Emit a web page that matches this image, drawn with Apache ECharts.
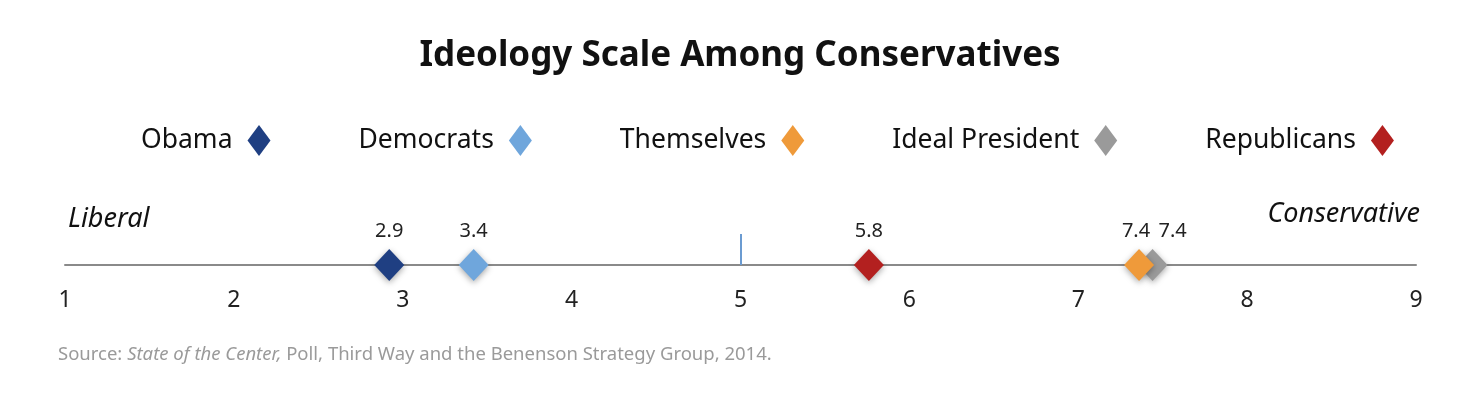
<!DOCTYPE html>
<html>
<head>
<meta charset="utf-8">
<script src="https://cdn.jsdelivr.net/npm/echarts@6/dist/echarts.min.js"></script>
<style>
  html, body { margin: 0; padding: 0; background: #fff; }
  #chart { width: 1480px; height: 398px; }
</style>
</head>
<body>
<div id="chart"></div>
<script>
// groups and their mean placement on the 1-9 scale
const groups = ['Obama', 'Democrats', 'Themselves', 'Ideal President', 'Republicans'];
const scores = [2.92, 3.42, 7.36, 7.44, 5.76];
const tickValues = [1, 2, 3, 4, 5, 6, 7, 8, 9];
const midpoint = 5;

// marker colours, same order as groups
const palette = ['#1f3f82', '#6fa6dc', '#ef9a3a', '#9a9a9a', '#b3201f'];

const FONT = '"Noto Sans", Lato, sans-serif';

const chart = echarts.init(document.getElementById('chart'));

const series = groups.map((name, i) => {
  const s = {
    name: name,
    type: 'scatter',
    symbol: 'diamond',
    symbolSize: [30, 32],
    clip: false,
    z: name === 'Themselves' ? 5 : 3,
    data: [[scores[i], 0]],
    itemStyle: {
      color: palette[i],
      opacity: 1,
      shadowBlur: 6,
      shadowColor: 'rgba(0,0,0,0.35)',
      shadowOffsetY: 2
    },
    label: {
      show: true,
      position: 'top',
      distance: 8,
      fontFamily: FONT,
      fontSize: 20,
      color: '#222',
      formatter: (p) => p.value[0].toFixed(1),
      offset: name === 'Ideal President' ? [20, 0] : (name === 'Themselves' ? [-3, 0] : [0, 0])
    }
  };
  if (i === 0) {
    // small blue marker at the scale midpoint
    s.markLine = {
      silent: true,
      symbol: 'none',
      label: { show: false },
      lineStyle: { color: '#6b9bd1', width: 2, type: 'solid' },
      data: [[{ coord: [midpoint, 0] }, { coord: [midpoint, 0.31] }]]
    };
  }
  return s;
});

const option = {
  backgroundColor: '#fff',
  animation: false,
  title: {
    text: 'Ideology Scale Among Conservatives',
    left: 'center',
    top: 34,
    textStyle: { fontFamily: FONT, fontSize: 35, fontWeight: 'bold', color: '#111' }
  },
  legend: {
    data: groups,
    left: 136,
    top: 120,
    align: 'right',
    icon: 'diamond',
    itemWidth: 23,
    itemHeight: 31,
    itemGap: 88,
    textStyle: { fontFamily: FONT, fontSize: 26.5, color: '#111', padding: [0, 10, 0, 0] }
  },
  grid: { left: 65, right: 64, top: 165, bottom: 133 },
  xAxis: {
    type: 'value',
    min: 1,
    max: 9,
    interval: 1,
    axisLine: { lineStyle: { color: '#8a8a8a', width: 2 } },
    axisTick: { show: false },
    splitLine: { show: false },
    axisLabel: {
      margin: 24,
      fontFamily: FONT,
      fontSize: 23,
      color: '#222',
      formatter: (v) => tickValues.includes(v) ? String(v) : ''
    }
  },
  yAxis: { type: 'value', min: 0, max: 1, show: false },
  graphic: [
    {
      type: 'text', left: 68, top: 206,
      style: { text: 'Liberal', fontFamily: FONT, fontSize: 27, fontStyle: 'italic', fill: '#111' }
    },
    {
      type: 'text', right: 60, top: 201,
      style: { text: 'Conservative', fontFamily: FONT, fontSize: 27, fontStyle: 'italic', fill: '#111' }
    },
    {
      type: 'text', left: 58, top: 345,
      style: {
        text: 'Source: {i|State of the Center,} Poll, Third Way and the Benenson Strategy Group, 2014.',
        fontFamily: FONT, fontSize: 18.5, fill: '#9a9a9a',
        rich: { i: { fontFamily: FONT, fontSize: 18.5, fontStyle: 'italic', fill: '#9a9a9a' } }
      }
    }
  ],
  series: series
};

chart.setOption(option);
</script>
</body>
</html>
